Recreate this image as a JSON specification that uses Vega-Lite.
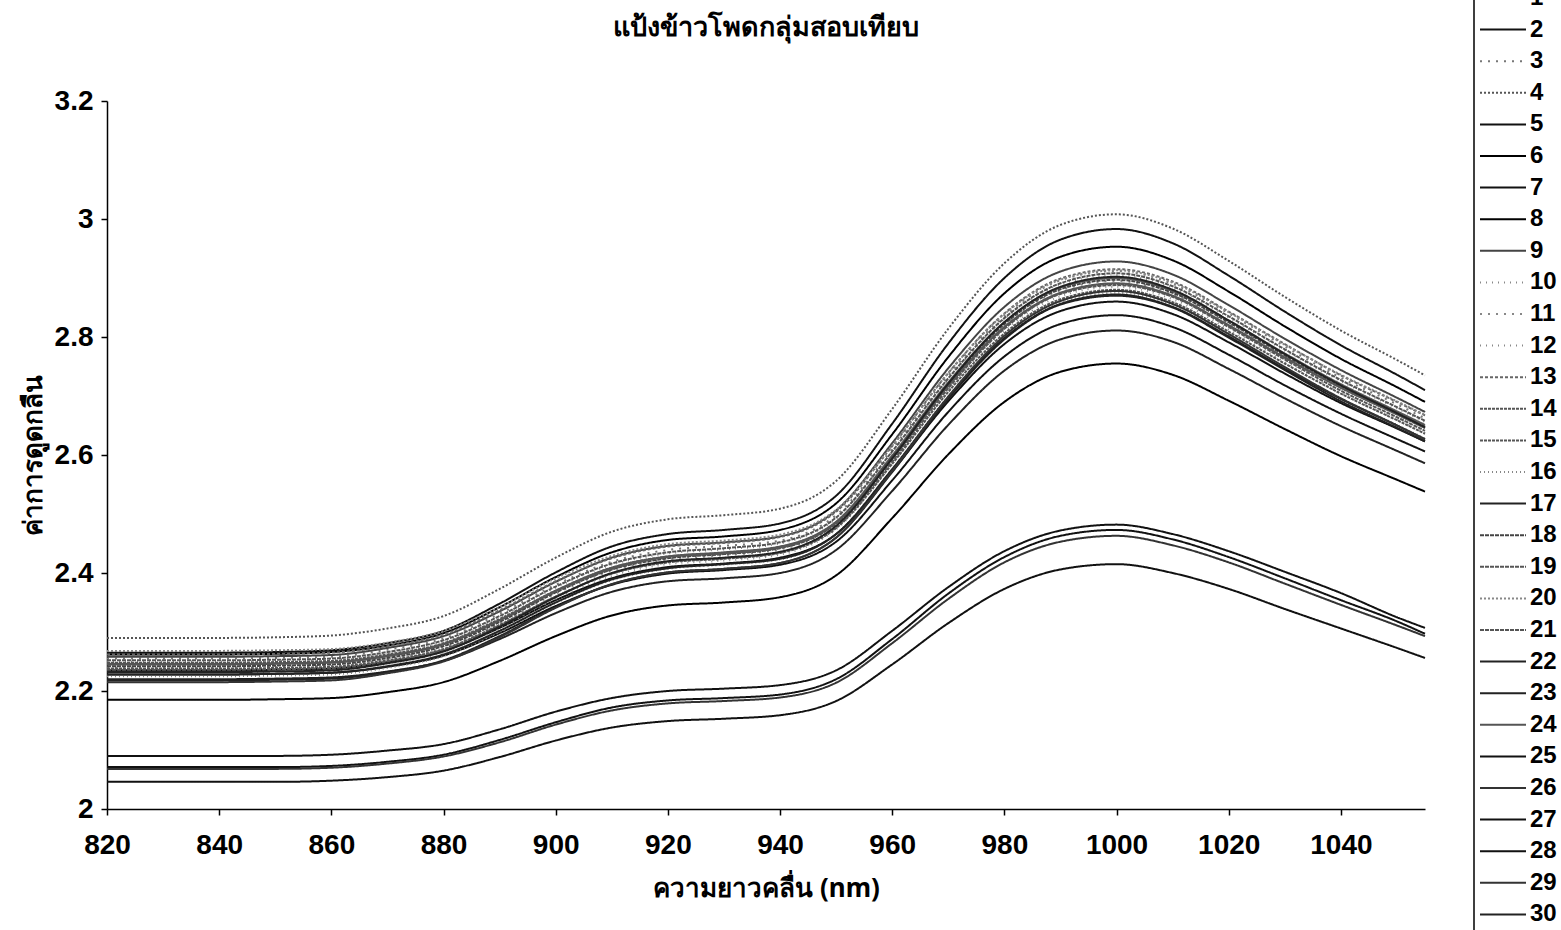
{
  "$schema": "https://vega.github.io/schema/vega-lite/v6.json",
  "width": 1318,
  "height": 708,
  "autosize": {"type": "none"},
  "padding": {"left": 107, "top": 101, "right": 136, "bottom": 121},
  "background": "white",
  "title": {
    "text": "แป้งข้าวโพดกลุ่มสอบเทียบ",
    "fontSize": 27,
    "fontWeight": "bold",
    "font": "Noto Sans, DejaVu Sans, sans-serif",
    "color": "black",
    "offset": 0,
    "dy": 62,
    "anchor": "middle"
  },
  "data": {
    "values": [
      {"s":"1","nm":[820,830,840,850,860,870,880,890,900,910,920,930,940,950,960,970,980,990,1000,1010,1020,1030,1040,1050,1055],"v":[2.245,2.245,2.245,2.246,2.248,2.259,2.279,2.320,2.370,2.409,2.428,2.435,2.445,2.487,2.599,2.723,2.825,2.884,2.900,2.878,2.828,2.772,2.720,2.674,2.651]},
      {"s":"2","nm":[820,830,840,850,860,870,880,890,900,910,920,930,940,950,960,970,980,990,1000,1010,1020,1030,1040,1050,1055],"v":[2.265,2.265,2.265,2.266,2.269,2.281,2.302,2.348,2.401,2.445,2.466,2.473,2.484,2.531,2.653,2.789,2.900,2.965,2.983,2.959,2.904,2.843,2.786,2.736,2.710]},
      {"s":"3","nm":[820,830,840,850,860,870,880,890,900,910,920,930,940,950,960,970,980,990,1000,1010,1020,1030,1040,1050,1055],"v":[2.255,2.255,2.255,2.256,2.258,2.270,2.289,2.331,2.380,2.419,2.439,2.446,2.455,2.498,2.610,2.735,2.836,2.896,2.912,2.890,2.840,2.784,2.731,2.686,2.662]},
      {"s":"4","nm":[820,830,840,850,860,870,880,890,900,910,920,930,940,950,960,970,980,990,1000,1010,1020,1030,1040,1050,1055],"v":[2.290,2.290,2.290,2.291,2.294,2.306,2.327,2.373,2.426,2.470,2.491,2.498,2.509,2.556,2.678,2.814,2.925,2.990,3.008,2.984,2.929,2.868,2.811,2.761,2.735]},
      {"s":"5","nm":[820,830,840,850,860,870,880,890,900,910,920,930,940,950,960,970,980,990,1000,1010,1020,1030,1040,1050,1055],"v":[2.235,2.235,2.235,2.236,2.238,2.249,2.268,2.307,2.354,2.391,2.410,2.416,2.426,2.466,2.573,2.691,2.788,2.844,2.860,2.839,2.791,2.738,2.688,2.645,2.623]},
      {"s":"6","nm":[820,830,840,850,860,870,880,890,900,910,920,930,940,950,960,970,980,990,1000,1010,1020,1030,1040,1050,1055],"v":[2.262,2.262,2.262,2.263,2.266,2.277,2.298,2.342,2.393,2.435,2.456,2.462,2.473,2.518,2.635,2.766,2.874,2.936,2.953,2.930,2.877,2.818,2.763,2.715,2.690]},
      {"s":"7","nm":[820,830,840,850,860,870,880,890,900,910,920,930,940,950,960,970,980,990,1000,1010,1020,1030,1040,1050,1055],"v":[2.228,2.228,2.228,2.229,2.231,2.241,2.260,2.298,2.344,2.380,2.399,2.405,2.414,2.453,2.557,2.673,2.767,2.822,2.837,2.817,2.770,2.718,2.670,2.627,2.606]},
      {"s":"8","nm":[820,830,840,850,860,870,880,890,900,910,920,930,940,950,960,970,980,990,1000,1010,1020,1030,1040,1050,1055],"v":[2.185,2.185,2.185,2.186,2.188,2.198,2.215,2.251,2.293,2.328,2.345,2.350,2.359,2.396,2.493,2.601,2.690,2.741,2.755,2.736,2.692,2.644,2.598,2.558,2.538]},
      {"s":"9","nm":[820,830,840,850,860,870,880,890,900,910,920,930,940,950,960,970,980,990,1000,1010,1020,1030,1040,1050,1055],"v":[2.258,2.258,2.258,2.259,2.261,2.273,2.293,2.335,2.385,2.426,2.446,2.452,2.462,2.506,2.620,2.747,2.851,2.911,2.928,2.906,2.854,2.797,2.744,2.697,2.673]},
      {"s":"10","nm":[820,830,840,850,860,870,880,890,900,910,920,930,940,950,960,970,980,990,1000,1010,1020,1030,1040,1050,1055],"v":[2.250,2.250,2.250,2.251,2.253,2.264,2.284,2.325,2.375,2.414,2.433,2.440,2.450,2.492,2.604,2.728,2.830,2.889,2.905,2.883,2.833,2.777,2.725,2.679,2.656]},
      {"s":"11","nm":[820,830,840,850,860,870,880,890,900,910,920,930,940,950,960,970,980,990,1000,1010,1020,1030,1040,1050,1055],"v":[2.240,2.240,2.240,2.241,2.243,2.254,2.274,2.315,2.365,2.404,2.423,2.430,2.440,2.482,2.594,2.718,2.820,2.879,2.895,2.873,2.823,2.767,2.715,2.669,2.646]},
      {"s":"12","nm":[820,830,840,850,860,870,880,890,900,910,920,930,940,950,960,970,980,990,1000,1010,1020,1030,1040,1050,1055],"v":[2.232,2.232,2.232,2.233,2.235,2.246,2.266,2.307,2.356,2.395,2.415,2.421,2.431,2.474,2.585,2.709,2.810,2.869,2.885,2.864,2.813,2.758,2.705,2.660,2.637]},
      {"s":"13","nm":[820,830,840,850,860,870,880,890,900,910,920,930,940,950,960,970,980,990,1000,1010,1020,1030,1040,1050,1055],"v":[2.262,2.262,2.262,2.263,2.265,2.276,2.296,2.337,2.386,2.425,2.445,2.451,2.461,2.504,2.615,2.739,2.840,2.899,2.915,2.894,2.843,2.788,2.735,2.690,2.667]},
      {"s":"14","nm":[820,830,840,850,860,870,880,890,900,910,920,930,940,950,960,970,980,990,1000,1010,1020,1030,1040,1050,1055],"v":[2.248,2.248,2.248,2.249,2.251,2.262,2.281,2.322,2.370,2.409,2.428,2.434,2.444,2.486,2.595,2.717,2.816,2.874,2.890,2.869,2.819,2.765,2.714,2.669,2.646]},
      {"s":"15","nm":[820,830,840,850,860,870,880,890,900,910,920,930,940,950,960,970,980,990,1000,1010,1020,1030,1040,1050,1055],"v":[2.238,2.238,2.238,2.239,2.241,2.252,2.271,2.312,2.360,2.399,2.418,2.424,2.434,2.476,2.585,2.707,2.806,2.864,2.880,2.859,2.809,2.755,2.704,2.659,2.636]},
      {"s":"16","nm":[820,830,840,850,860,870,880,890,900,910,920,930,940,950,960,970,980,990,1000,1010,1020,1030,1040,1050,1055],"v":[2.225,2.225,2.225,2.226,2.228,2.239,2.259,2.300,2.349,2.388,2.407,2.414,2.423,2.466,2.576,2.700,2.800,2.859,2.875,2.854,2.804,2.748,2.696,2.651,2.628]},
      {"s":"17","nm":[820,830,840,850,860,870,880,890,900,910,920,930,940,950,960,970,980,990,1000,1010,1020,1030,1040,1050,1055],"v":[2.220,2.220,2.220,2.221,2.223,2.233,2.251,2.288,2.332,2.368,2.386,2.391,2.400,2.439,2.539,2.651,2.743,2.796,2.811,2.792,2.746,2.696,2.649,2.607,2.586]},
      {"s":"18","nm":[820,830,840,850,860,870,880,890,900,910,920,930,940,950,960,970,980,990,1000,1010,1020,1030,1040,1050,1055],"v":[2.242,2.242,2.242,2.243,2.245,2.256,2.276,2.317,2.367,2.406,2.425,2.432,2.442,2.484,2.596,2.720,2.822,2.881,2.897,2.875,2.825,2.769,2.717,2.671,2.648]},
      {"s":"19","nm":[820,830,840,850,860,870,880,890,900,910,920,930,940,950,960,970,980,990,1000,1010,1020,1030,1040,1050,1055],"v":[2.252,2.252,2.252,2.253,2.255,2.266,2.286,2.327,2.377,2.416,2.435,2.442,2.452,2.494,2.606,2.730,2.832,2.891,2.908,2.886,2.835,2.779,2.727,2.681,2.658]},
      {"s":"20","nm":[820,830,840,850,860,870,880,890,900,910,920,930,940,950,960,970,980,990,1000,1010,1020,1030,1040,1050,1055],"v":[2.268,2.268,2.268,2.269,2.271,2.282,2.302,2.342,2.391,2.429,2.449,2.455,2.465,2.507,2.616,2.739,2.839,2.897,2.913,2.892,2.842,2.787,2.736,2.691,2.668]},
      {"s":"21","nm":[820,830,840,850,860,870,880,890,900,910,920,930,940,950,960,970,980,990,1000,1010,1020,1030,1040,1050,1055],"v":[2.236,2.236,2.236,2.237,2.239,2.250,2.270,2.311,2.360,2.399,2.419,2.425,2.435,2.478,2.589,2.713,2.814,2.873,2.888,2.868,2.817,2.762,2.709,2.664,2.641]},
      {"s":"22","nm":[820,830,840,850,860,870,880,890,900,910,920,930,940,950,960,970,980,990,1000,1010,1020,1030,1040,1050,1055],"v":[2.228,2.228,2.228,2.229,2.231,2.242,2.262,2.302,2.350,2.389,2.408,2.415,2.424,2.466,2.576,2.698,2.798,2.856,2.872,2.851,2.801,2.746,2.695,2.650,2.627]},
      {"s":"23","nm":[820,830,840,850,860,870,880,890,900,910,920,930,940,950,960,970,980,990,1000,1010,1020,1030,1040,1050,1055],"v":[2.218,2.218,2.218,2.219,2.221,2.232,2.252,2.293,2.342,2.381,2.401,2.407,2.417,2.460,2.571,2.695,2.796,2.855,2.870,2.850,2.799,2.744,2.691,2.646,2.623]},
      {"s":"24","nm":[820,830,840,850,860,870,880,890,900,910,920,930,940,950,960,970,980,990,1000,1010,1020,1030,1040,1050,1055],"v":[2.246,2.246,2.246,2.247,2.249,2.260,2.280,2.320,2.369,2.407,2.427,2.433,2.443,2.485,2.594,2.717,2.817,2.875,2.891,2.870,2.820,2.765,2.714,2.669,2.646]},
      {"s":"25","nm":[820,830,840,850,860,870,880,890,900,910,920,930,940,950,960,970,980,990,1000,1010,1020,1030,1040,1050,1055],"v":[2.090,2.090,2.090,2.090,2.092,2.099,2.110,2.135,2.165,2.188,2.200,2.204,2.210,2.235,2.302,2.376,2.437,2.472,2.482,2.466,2.437,2.402,2.366,2.325,2.307]},
      {"s":"26","nm":[820,830,840,850,860,870,880,890,900,910,920,930,940,950,960,970,980,990,1000,1010,1020,1030,1040,1050,1055],"v":[2.215,2.215,2.215,2.216,2.218,2.230,2.250,2.291,2.341,2.381,2.401,2.407,2.417,2.460,2.573,2.699,2.802,2.861,2.878,2.856,2.805,2.749,2.696,2.650,2.626]},
      {"s":"27","nm":[820,830,840,850,860,870,880,890,900,910,920,930,940,950,960,970,980,990,1000,1010,1020,1030,1040,1050,1055],"v":[2.071,2.071,2.071,2.071,2.073,2.080,2.092,2.117,2.147,2.172,2.184,2.188,2.194,2.220,2.288,2.365,2.427,2.463,2.473,2.457,2.427,2.391,2.354,2.318,2.297]},
      {"s":"28","nm":[820,830,840,850,860,870,880,890,900,910,920,930,940,950,960,970,980,990,1000,1010,1020,1030,1040,1050,1055],"v":[2.046,2.046,2.046,2.046,2.048,2.054,2.065,2.088,2.116,2.138,2.149,2.153,2.159,2.183,2.245,2.315,2.373,2.406,2.415,2.400,2.373,2.339,2.306,2.273,2.256]},
      {"s":"29","nm":[820,830,840,850,860,870,880,890,900,910,920,930,940,950,960,970,980,990,1000,1010,1020,1030,1040,1050,1055],"v":[2.068,2.068,2.068,2.068,2.070,2.077,2.089,2.113,2.143,2.167,2.179,2.183,2.189,2.214,2.281,2.356,2.418,2.453,2.463,2.447,2.418,2.382,2.346,2.311,2.293]},
      {"s":"30","nm":[820,830,840,850,860,870,880,890,900,910,920,930,940,950,960,970,980,990,1000,1010,1020,1030,1040,1050,1055],"v":[2.232,2.232,2.232,2.233,2.235,2.247,2.267,2.309,2.359,2.400,2.420,2.426,2.436,2.480,2.594,2.721,2.825,2.885,2.902,2.880,2.828,2.771,2.718,2.671,2.647]}
    ]
  },
  "transform": [{"flatten": ["nm", "v"]}],
  "mark": {"type": "line", "interpolate": "monotone", "strokeWidth": 2},
  "encoding": {
    "x": {
      "field": "nm",
      "type": "quantitative",
      "scale": {"domain": [820, 1055], "nice": false, "zero": false},
      "axis": {
        "title": "ความยาวคลื่น (nm)",
        "values": [820, 840, 860, 880, 900, 920, 940, 960, 980, 1000, 1020, 1040],
        "format": "d",
        "labelFlush": false,
        "labelPadding": 16,
        "titlePadding": 16
      }
    },
    "y": {
      "field": "v",
      "type": "quantitative",
      "scale": {"domain": [2, 3.2], "nice": false, "zero": false},
      "axis": {
        "title": "ค่าการดูดกลืน",
        "values": [2, 2.2, 2.4, 2.6, 2.8, 3, 3.2],
        "format": ".1~f",
        "labelFlush": false,
        "labelPadding": 8,
        "titlePadding": 8
      }
    },
    "color": {
      "field": "s",
      "type": "nominal",
      "scale": {
        "domain": ["1","2","3","4","5","6","7","8","9","10","11","12","13","14","15","16","17","18","19","20","21","22","23","24","25","26","27","28","29","30"],
        "range": ["#555555","#111111","#777777","#555555","#111111","#000000","#111111","#000000","#444444","#888888","#888888","#888888","#666666","#555555","#555555","#888888","#222222","#444444","#555555","#888888","#555555","#222222","#222222","#555555","#111111","#333333","#111111","#111111","#333333","#222222"]
      },
      "legend": {"orient": "none", "legendX": 1367, "legendY": -120, "title": null}
    },
    "strokeDash": {
      "field": "s",
      "type": "nominal",
      "scale": {
        "domain": ["1","2","3","4","5","6","7","8","9","10","11","12","13","14","15","16","17","18","19","20","21","22","23","24","25","26","27","28","29","30"],
        "range": [[1,0],[1,0],[2,6],[2,2],[1,0],[1,0],[1,0],[1,0],[1,0],[1,5],[2,6],[1,5],[3,2],[3,1],[3,1],[1,3],[1,0],[4,1],[4,1],[2,2],[4,1],[1,0],[1,0],[1,0],[1,0],[1,0],[1,0],[1,0],[1,0],[1,0]]
      },
      "legend": {"orient": "none", "legendX": 1367, "legendY": -120, "title": null}
    }
  },
  "config": {
    "view": {"stroke": null},
    "axis": {
      "grid": false,
      "domainColor": "black",
      "domainWidth": 1.5,
      "tickColor": "black",
      "tickWidth": 1.5,
      "tickSize": 6,
      "labelColor": "black",
      "labelFont": "Liberation Sans, Arial, sans-serif",
      "labelFontWeight": "bold",
      "labelFontSize": 28,
      "titleColor": "black",
      "titleFont": "Noto Sans, DejaVu Sans, sans-serif",
      "titleFontWeight": "bold",
      "titleFontSize": 26
    },
    "legend": {
      "direction": "vertical",
      "padding": 5,
      "strokeColor": "black",
      "strokeWidth": 1.5,
      "fillColor": "white",
      "symbolType": "stroke",
      "symbolSize": 2116,
      "symbolStrokeWidth": 2,
      "clipHeight": 24,
      "rowPadding": 7.6,
      "labelOffset": 3,
      "labelFont": "Liberation Sans, Arial, sans-serif",
      "labelFontWeight": "bold",
      "labelFontSize": 24,
      "labelColor": "black",
      "labelLimit": 60
    }
  }
}
